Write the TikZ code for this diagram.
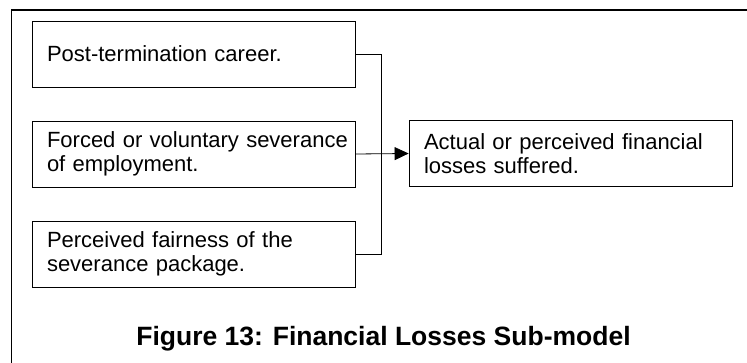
\documentclass[tikz,border=0pt]{standalone}
\usepackage{fontspec}
\setmainfont{Liberation Sans}
\usetikzlibrary{arrows.meta}
\begin{document}
\begin{tikzpicture}[x=1pt,y=-1pt,
  factor/.style={draw, line width=0.8pt, minimum height=66pt,
    text width=293pt, inner xsep=15pt, inner ysep=0pt, align=left,
    font=\fontsize{22}{23.5}\selectfont},
  link/.style={line width=0.8pt},
  frameline/.style={line width=1.4pt},
  caption/.style={font=\fontsize{26.5}{30}\selectfont\bfseries, inner sep=0pt}]
  \useasboundingbox (0,0) rectangle (747,363);
  % open frame around the model
  \draw[frameline] (11.5,363) -- (11.5,10) -- (747,10);
  % influencing factors
  \node[factor] (career) at (193.5,54) {\mbox{Post-termination career.}};
  \node[factor] (sever) at (193.5,154) {\mbox{Forced or voluntary severance}\\\mbox{of employment.}};
  \node[factor] (fair) at (193.5,254) {\mbox{Perceived fairness of the}\\\mbox{severance package.}};
  % outcome
  \node[factor] (loss) at (570.5,153.5) {\mbox{Actual or perceived financial}\\\mbox{losses suffered.}};
  % joining bar
  \coordinate (join) at (381,154);
  \draw[link] (career.east) -| (join);
  \draw[link] (fair.east) -| (join);
  \draw[link, -{Triangle[length=14pt,width=13pt]}] (sever.east) -- (loss.west);
  % caption
  \node[caption, anchor=base] (title) at (383.5,345) {Figure 13: Financial Losses Sub-model};
\end{tikzpicture}
\end{document}
